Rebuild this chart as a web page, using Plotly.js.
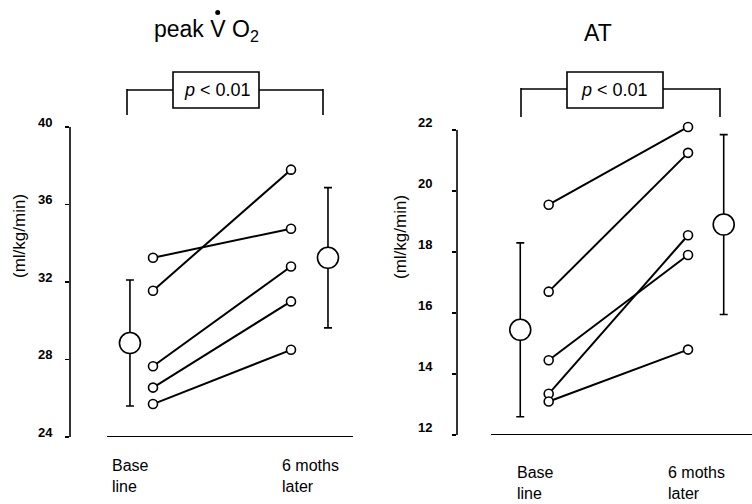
<!DOCTYPE html>
<html>
<head>
<meta charset="utf-8">
<script src="https://cdn.plot.ly/plotly-3.0.1.min.js"></script>
<style>html,body{margin:0;padding:0;background:#fff;}#chart{width:752px;height:504px;}</style>
</head>
<body>
<div id="chart"></div>
<script>
// ---- data ----
const groups = ['Base<br>line', '6 moths<br>later'];
const vo2Base = [33.25, 31.55, 27.65, 26.55, 25.7];
const vo2Later = [34.75, 37.8, 32.8, 31.0, 28.5];
const vo2Mean = [28.85, 33.25];
const vo2Err = [3.25, 3.62];
const vo2Ticks = [24, 28, 32, 36, 40];

const atBase = [19.55, 16.7, 14.45, 13.35, 13.1];
const atLater = [22.1, 21.25, 17.9, 18.55, 14.8];
const atMean = [15.45, 18.9];
const atErr = [2.85, 2.95];
const atTicks = [12, 14, 16, 18, 20, 22];

const pText = '<i>p</i> < 0.01';

// ---- layout helpers ----
const W = 752, H = 504;
const px = x => x / W;
const py = y => 1 - y / H;
const FONT = 'Liberation Sans, Arial, sans-serif';

const traces = [];
function panel(base, later, mean, err, xa, ya, meanX) {
  for (let i = 0; i < base.length; i++) {
    traces.push({
      x: [0, 1], y: [base[i], later[i]], xaxis: xa, yaxis: ya,
      mode: 'lines+markers', type: 'scatter', cliponaxis: false, hoverinfo: 'skip',
      line: {color: '#000', width: 2},
      marker: {symbol: 'circle', size: 9, color: '#fff', line: {color: '#000', width: 1.6}}
    });
  }
  traces.push({
    x: meanX, y: mean, xaxis: xa, yaxis: ya, mode: 'markers', type: 'scatter',
    cliponaxis: false, hoverinfo: 'skip',
    error_y: {type: 'data', array: err, visible: true, color: '#000', thickness: 1.6, width: 4},
    marker: {symbol: 'circle', size: 21, color: '#fff', line: {color: '#000', width: 1.6}}
  });
}
panel(vo2Base, vo2Later, vo2Mean, vo2Err, 'x', 'y', [-0.167, 1.268]);
panel(atBase, atLater, atMean, atErr, 'x2', 'y2', [-0.204, 1.256]);

const yCommon = {
  showgrid: false, zeroline: false,
  ticks: 'outside', ticklen: 4, tickwidth: 1.4, tickcolor: '#000',
  tickfont: {family: FONT, size: 13, color: '#000', weight: 'bold'}
};

const shapes = [];
const BL = {color: '#000', width: 1.6};
const line = (x0, y0, x1, y1) => shapes.push({type: 'line', xref: 'paper', yref: 'paper',
  x0: px(x0), y0: py(y0), x1: px(x1), y1: py(y1), line: BL});
// left bracket
line(127, 90, 173, 90); line(259, 90, 323, 90); line(127, 89, 127, 115); line(323, 89, 323, 115);
shapes.push({type: 'rect', xref: 'paper', yref: 'paper', x0: px(173), x1: px(259), y0: py(108), y1: py(72), line: BL});
// right bracket
line(521, 89, 567, 89); line(663, 89, 720, 89); line(521, 88, 521, 117); line(720, 88, 720, 117);
shapes.push({type: 'rect', xref: 'paper', yref: 'paper', x0: px(567), x1: px(663), y0: py(108), y1: py(72), line: BL});
// dot over V (V-dot)
shapes.push({type: 'circle', xref: 'paper', yref: 'paper', x0: px(215.2), x1: px(220.2), y0: py(15), y1: py(10),
  fillcolor: '#000', line: {color: '#000', width: 0}});
// y axis lines
shapes.push({type: 'line', xref: 'x domain', yref: 'y', x0: 0, x1: 0, y0: 24, y1: 40, line: BL});
shapes.push({type: 'line', xref: 'x2 domain', yref: 'y2', x0: 0, x1: 0, y0: 12, y1: 22, line: BL});
// baseline lines
shapes.push({type: 'line', xref: 'x', yref: 'y', x0: -0.333, x1: 1.449, y0: 24, y1: 24, line: {color: '#000', width: 2}});
shapes.push({type: 'line', xref: 'x2', yref: 'y2', x0: -0.414, x1: 1.459, y0: 12, y1: 12, line: {color: '#000', width: 2}});

const ann = (x, y, text, size, extra) => Object.assign({xref: 'paper', yref: 'paper', x: px(x), y: py(y),
  xanchor: 'center', yanchor: 'middle',
  text, showarrow: false, font: {family: FONT, size, color: '#000'}}, extra || {});
const annotations = [
  ann(207, 30, 'peak V O<sub>2</sub>', 23),
  ann(598, 33, 'AT', 23),
  ann(217, 90, pText, 18),
  ann(614, 90, pText, 18),
  ann(19, 236, '(ml/kg/min)', 17, {textangle: -90}),
  ann(400, 237, '(ml/kg/min)', 17, {textangle: -90}),
  ann(110, 476, groups[0], 16, {xanchor: 'left', align: 'left'}),
  ann(280, 476, groups[1], 16, {xanchor: 'left', align: 'left'}),
  ann(515, 483, groups[0], 16, {xanchor: 'left', align: 'left'}),
  ann(666, 483, groups[1], 16, {xanchor: 'left', align: 'left'})
];

const layout = {
  width: W, height: H, margin: {l: 0, r: 0, t: 0, b: 0},
  paper_bgcolor: '#fff', plot_bgcolor: '#fff', showlegend: false,
  font: {family: FONT, color: '#000'},
  xaxis: {domain: [px(70), px(360)], range: [-0.6014, 1.5], visible: false},
  yaxis: Object.assign({}, yCommon, {domain: [py(437), py(127)], range: [24, 40], tickvals: vo2Ticks,
    anchor: 'x', ticklabelstandoff: 10, ticklabelshift: -5}),
  xaxis2: {domain: [px(457), 1], range: [-0.658, 1.459], visible: false, anchor: 'y2'},
  yaxis2: Object.assign({}, yCommon, {domain: [py(435), py(120.85)], range: [12, 22.3], tickvals: atTicks,
    anchor: 'x2', ticklabelstandoff: 17, ticklabelshift: -8}),
  shapes, annotations
};

Plotly.newPlot('chart', traces, layout, {staticPlot: true, displayModeBar: false});
</script>
</body>
</html>
